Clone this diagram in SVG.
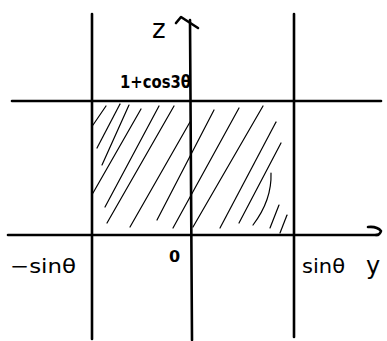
<svg xmlns="http://www.w3.org/2000/svg" width="387" height="341" viewBox="0 0 387 341">
<style>
.ax{stroke:#000;stroke-width:2.6;fill:none;stroke-linecap:round;stroke-linejoin:round}
.h{stroke:#000;stroke-width:1.2;fill:none;stroke-linecap:round}
.t{font-family:"DejaVu Sans","Liberation Sans",sans-serif;fill:#000}
</style>
<rect width="387" height="341" fill="#fff"/>
<g id="hatching">
<path class="h" d="M93,125 L106,106"/>
<path class="h" d="M97,148 L120,104"/>
<path class="h" d="M102,165 L129,105"/>
<path class="h" d="M93,193 L141,109"/>
<path class="h" d="M105,207 L159,106"/>
<path class="h" d="M107,223 L174,106"/>
<path class="h" d="M130,227 L190,122"/>
<path class="h" d="M157,220 L214,110"/>
<path class="h" d="M173,228 L239,108"/>
<path class="h" d="M193,227 L263,106"/>
<path class="h" d="M220,228 L276,122"/>
<path class="h" d="M239,223 L281,143"/>
<path class="h" d="M253,225 Q272,200 271,173"/>
<path class="h" d="M270,228 L279,205"/>
<path class="h" d="M280,233 L287,215"/>
</g>
<g id="connectors">
<path class="ax" d="M12,101 L381,101"/>
<path class="ax" d="M8,235 L378,235"/>
<path class="ax" d="M92,14 L92,339"/>
<path class="ax" d="M190,20 L192,340"/>
<path class="ax" d="M294,14 L294,337"/>
<path class="ax" d="M176,23 L181,17 L198,28"/>
<path class="ax" d="M368,227 Q377,226 381,231 Q380,235 376,235"/>
</g>
<g id="labels">
<text class="t" x="152" y="38" font-size="26">z</text>
<text class="t" x="120" y="88" font-size="17" font-weight="bold" textLength="71" lengthAdjust="spacingAndGlyphs">1+cos3θ</text>
<text class="t" x="10" y="273" font-size="20" textLength="66" lengthAdjust="spacingAndGlyphs">−sinθ</text>
<text class="t" x="169" y="262" font-size="16" font-weight="bold">0</text>
<text class="t" x="302" y="273" font-size="20" textLength="43" lengthAdjust="spacingAndGlyphs">sinθ</text>
<text class="t" x="366" y="274" font-size="24">y</text>
</g>
</svg>
